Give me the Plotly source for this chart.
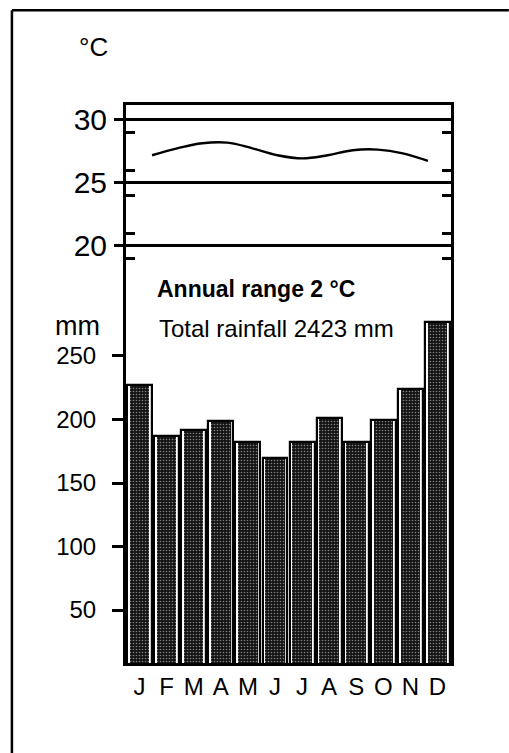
import plotly.graph_objects as go

# Monthly climate data
months = ["J", "F", "M", "A", "M", "J", "J", "A", "S", "O", "N", "D"]
rainfall_mm = [227, 187, 192, 199, 182, 170, 182, 201, 182, 200, 224, 277]
temperature_c = [27.2, 27.75, 28.15, 28.2, 27.75, 27.2, 26.95, 27.2, 27.6, 27.65, 27.35, 26.75]

temp_ticks = [20, 25, 30]
temp_minor_ticks = [19, 21, 24, 26, 29]
rain_ticks = [50, 100, 150, 200, 250]

FONT = "Liberation Sans, Arial, sans-serif"
idx = list(range(len(months)))

fig = go.Figure()

# speckled rainfall columns
fig.add_trace(go.Bar(
    x=idx, y=rainfall_mm, width=0.72,
    marker=dict(color="#141414", line=dict(width=0),
                pattern=dict(shape=".", fgcolor="#808080", bgcolor="#141414",
                             size=3, solidity=0.22, fillmode="replace")),
    hoverinfo="skip", showlegend=False,
))
# black outline around each column
fig.add_trace(go.Bar(
    x=idx, y=rainfall_mm, width=0.92,
    marker=dict(color="rgba(0,0,0,0)", line=dict(color="black", width=2.2)),
    hoverinfo="skip", showlegend=False,
))
# mean monthly temperature curve
fig.add_trace(go.Scatter(
    x=idx, y=temperature_c, xaxis="x2", yaxis="y2",
    mode="lines", line=dict(color="black", width=2.4, shape="spline", smoothing=1.1),
    hoverinfo="skip", showlegend=False,
))
# inner tick marks on the right-hand edge
fig.add_trace(go.Scatter(
    x=[None], y=[None], xaxis="x2", yaxis="y3", showlegend=False,
))

fig.update_layout(
    width=509, height=753, autosize=False,
    margin=dict(l=126, r=58, t=105, b=90),
    paper_bgcolor="white", plot_bgcolor="white",
    barmode="overlay", bargap=0,
    font=dict(family=FONT, color="black"),
    xaxis=dict(
        range=[-0.5, 11.5], tickmode="array", tickvals=idx, ticktext=months,
        ticks="", showgrid=False, zeroline=False,
        showline=True, linecolor="black", linewidth=3, mirror=True,
        tickfont=dict(size=24, family=FONT), ticklabelstandoff=0,
    ),
    xaxis2=dict(
        overlaying="x", range=[-1.04, 11.92], visible=False,
    ),
    yaxis=dict(
        range=[8.3, 447.6], tickmode="array", tickvals=rain_ticks,
        ticks="outside", ticklen=11, tickwidth=2.5, tickcolor="black",
        showgrid=False, zeroline=False,
        showline=True, linecolor="black", linewidth=3, mirror=True,
        tickfont=dict(size=24, family=FONT), ticklabelstandoff=11,
    ),
    yaxis2=dict(
        overlaying="y", side="left", anchor="x",
        range=[-13.1, 31.19], tickmode="array", tickvals=temp_ticks,
        ticks="outside", ticklen=11, tickwidth=2.5, tickcolor="black",
        showgrid=True, gridcolor="black", gridwidth=2.5, zeroline=False,
        minor=dict(tickvals=temp_minor_ticks, ticks="inside", ticklen=9,
                   tickwidth=2.5, tickcolor="black", showgrid=False),
        tickfont=dict(size=30, family=FONT), ticklabelstandoff=1,
    ),
    yaxis3=dict(
        overlaying="y", side="right", anchor="x",
        range=[-13.1, 31.19], tickmode="array", tickvals=temp_minor_ticks,
        ticks="inside", ticklen=9, tickwidth=2.5, tickcolor="black",
        showticklabels=False, showgrid=False, zeroline=False,
    ),
    annotations=[
        dict(text="°C", xref="paper", yref="paper", x=-0.049, y=1.104,
             xanchor="right", yanchor="middle", showarrow=False,
             font=dict(size=26, family=FONT)),
        dict(text="mm", xref="paper", yref="paper", x=-0.074, y=0.604,
             xanchor="right", yanchor="middle", showarrow=False,
             font=dict(size=27, family=FONT)),
        dict(text="<b>Annual range 2 °C</b>", xref="paper", yref="paper",
             x=0.089, y=0.670, xanchor="left", yanchor="middle", showarrow=False,
             font=dict(size=23, family=FONT)),
        dict(text="Total rainfall 2423 mm", xref="paper", yref="paper",
             x=0.095, y=0.599, xanchor="left", yanchor="middle", showarrow=False,
             font=dict(size=24, family=FONT)),
    ],
    shapes=[
        # outer frame: top and left edges
        dict(type="line", xref="paper", yref="paper", x0=-0.351, x1=1.178,
             y0=1.170, y1=1.170, line=dict(color="black", width=2.5)),
        dict(type="line", xref="paper", yref="paper", x0=-0.351, x1=-0.351,
             y0=1.170, y1=-0.165, line=dict(color="black", width=2.5)),
    ],
)

fig.write_html("out.html")
